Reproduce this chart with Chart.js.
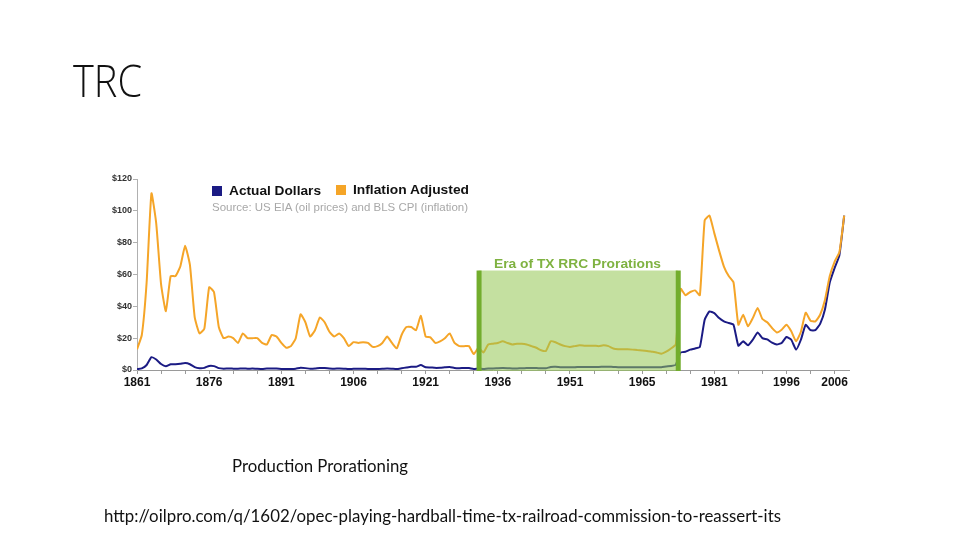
<!DOCTYPE html>
<html>
<head>
<meta charset="utf-8">
<script src="https://cdn.jsdelivr.net/npm/chart.js@4.4.1/dist/chart.umd.min.js"></script>
<style>
  html, body { margin:0; padding:0; background:#fff; width:960px; height:540px; overflow:hidden; }
  #wrap { position:absolute; left:0; top:0; width:960px; height:540px; }
  canvas { position:absolute; left:0; top:0; }
  .t { position:absolute; white-space:nowrap; line-height:1; transform-origin:0 50%; }
  .sq { position:absolute; width:10px; height:10px; }
</style>
</head>
<body>
<div id="wrap">
  <canvas id="c" width="960" height="540"></canvas>
  <div class="t" id="title" data-w="69" style="left:73px;top:58px;font-family:'Open Sans',Lato,sans-serif;font-weight:300;font-size:44px;color:#111;">TRC</div>
  <div class="sq" style="left:212px;top:186px;background:#1b1b84;"></div>
  <div class="t" data-w="92" style="left:229px;top:184px;font-family:'Liberation Sans',Arial,sans-serif;font-weight:bold;font-size:13px;color:#111;">Actual Dollars</div>
  <div class="sq" style="left:336px;top:185px;background:#f5a528;"></div>
  <div class="t" data-w="116" style="left:353px;top:183px;font-family:'Liberation Sans',Arial,sans-serif;font-weight:bold;font-size:13px;color:#111;">Inflation Adjusted</div>
  <div class="t" data-w="256" style="left:212px;top:202px;font-family:'Liberation Sans',Arial,sans-serif;font-size:11px;color:#a8a8a8;">Source: US EIA (oil prices) and BLS CPI (inflation)</div>
  <div class="t" data-w="167" style="left:494px;top:257px;font-family:'Liberation Sans',Arial,sans-serif;font-weight:bold;font-size:13px;color:#7fb241;">Era of TX RRC Prorations</div>
  <div class="t" data-w="176" style="left:232px;top:457px;font-family:Lato,'Open Sans',sans-serif;font-size:17px;color:#111;">Production Prorationing</div>
  <div class="t" data-w="677" style="left:104px;top:507px;font-family:Lato,'Open Sans',sans-serif;font-size:17px;color:#111;">http://oilpro.com/q/1602/opec-playing-hardball-time-tx-railroad-commission-to-reassert-its</div>
</div>
<script>
// ---- data ----
const startYear = 1861;
const actualDollars = [
  0.49,1.05,3.15,8.06,6.59,3.74,2.41,3.63,3.64,3.86,
  4.34,3.64,1.83,1.17,1.35,2.56,2.42,1.19,0.86,0.95,
  0.86,0.78,1.00,0.84,0.88,0.71,0.67,0.88,0.94,0.87,
  0.67,0.56,0.64,0.84,1.36,1.18,0.79,0.91,1.29,1.19,
  0.96,0.80,0.94,0.86,0.62,0.73,0.72,0.72,0.70,0.61,
  0.61,0.74,0.95,0.81,0.64,1.10,1.56,1.98,2.01,3.07,
  1.73,1.61,1.34,1.43,1.68,1.88,1.30,1.17,1.27,1.19,
  0.65,0.87,0.67,1.00,0.97,1.09,1.18,1.13,1.02,1.02,
  1.14,1.19,1.20,1.21,1.05,1.12,1.90,1.99,1.78,1.71,
  1.71,1.71,1.93,1.93,1.93,1.93,1.90,2.08,2.08,1.90,
  1.80,1.80,1.80,1.80,1.80,1.80,1.80,1.80,1.80,1.80,
  2.24,2.48,3.29,11.0,11.5,12.8,13.5,14.5,31.6,36.8,
  35.7,32.6,30.5,29.5,28.4,15.3,18.0,15.5,19.0,23.6,
  20.0,19.2,17.2,16.0,17.0,20.7,19.0,12.8,19.0,28.4,
  25.0,25.0,29.0,38.0,55.0,64.0,72.0,97.0
];
const inflationAdjusted = [
  13,22,55,111,92,54,37,59,59,65,
  78,66,33,23,26,52,49,27,20,21,
  20,17,23,20,20,20,17,16,22,21,
  17,14,15,20,35,30,21,25,33,30,
  24,21,23,20,15,17.5,17,17.5,17,14.5,
  15,17,21,17,13.6,22,27,27,25,34,
  21,20.5,17,18,20,23,17,15,15,15,
  10,14,11,16,16.5,17,18,17,16,16.5,
  16.5,16,15,14,12.4,12,18,17.4,16,15,
  14.5,15,15.5,15.3,15.3,15.3,15,15.5,15,13.5,
  13,13,13,12.8,12.5,12.3,12,11.5,11,10.2,
  11.5,13.5,16,51,47,49,50,47,94,97,
  86,75,65,59,55,28.4,34.7,27.4,32.6,39,
  32,30,26.4,23.6,25.3,28.4,24.3,18,24,36,
  31,30.5,34.7,44,59,68,74,97
];
const tickYears  = [1861,1876,1891,1906,1921,1936,1951,1966,1981,1996,2006];
const tickLabels = ['1861','1876','1891','1906','1921','1936','1951','1965','1981','1996','2006'];
const yTicks = [0,20,40,60,80,100,120];
const eraStart = 1932, eraEnd = 1973.4, eraTop = 62.5;

// ---- build ----
const years = actualDollars.map((_, i) => startYear + i);
const minorYears = [];
for (let y = 1861; y <= 2006; y += 5) minorYears.push(y);

const eraPlugin = {
  id: 'era',
  afterDatasetsDraw(chart) {
    const {ctx, scales:{x, y}} = chart;
    const x1 = x.getPixelForValue(eraStart), x2 = x.getPixelForValue(eraEnd);
    const top = y.getPixelForValue(eraTop), bot = y.getPixelForValue(0) + 1;
    ctx.save();
    ctx.fillStyle = 'rgba(148,199,82,0.55)';
    ctx.fillRect(x1, top, x2 - x1, bot - top);
    ctx.fillStyle = '#72ad2d';
    ctx.fillRect(x1 - 2, top, 5, bot - top);
    ctx.fillRect(x2 - 2, top, 5, bot - top);
    ctx.restore();
  }
};

new Chart(document.getElementById('c'), {
  type: 'line',
  data: {
    datasets: [
      { label:'Inflation Adjusted', data: years.map((yr,i)=>({x:yr, y:inflationAdjusted[i]})),
        borderColor:'#f5a528', borderWidth:2, pointRadius:0, tension:0.15, borderJoinStyle:'round', order:0 },
      { label:'Actual Dollars', data: years.map((yr,i)=>({x:yr, y:actualDollars[i]})),
        borderColor:'#1b1b84', borderWidth:2, pointRadius:0, tension:0.15, borderJoinStyle:'round', order:1 }
    ]
  },
  options: {
    responsive:false, animation:false, devicePixelRatio:1,
    layout:{ padding:{ left:100, right:111, top:179, bottom:0 } },
    plugins:{ legend:{display:false}, tooltip:{enabled:false} },
    scales:{
      x:{ type:'linear', min:1861, max:2009,
        afterBuildTicks(s){ s.ticks = minorYears.map(v=>({value:v})); },
        afterFit(s){ s.height = 170; },
        grid:{ display:true, drawOnChartArea:false, drawTicks:true, tickLength:4, color:'#9a9a9a' },
        border:{ display:true, color:'#9a9a9a', width:1 },
        ticks:{ autoSkip:false, maxRotation:0, padding:1, color:'#111',
          font:{ family:"'Liberation Sans', Arial, sans-serif", size:12, weight:'bold' },
          callback(v){ const k = tickYears.indexOf(v); return k >= 0 ? tickLabels[k] : ''; } }
      },
      y:{ min:0, max:120,
        afterBuildTicks(s){ s.ticks = yTicks.map(v=>({value:v})); },
        afterFit(s){ s.width = 37; },
        grid:{ display:true, drawOnChartArea:false, drawTicks:true, tickLength:4, color:'#b0b0b0' },
        border:{ display:true, color:'#b0b0b0', width:1 },
        ticks:{ padding:1, color:'#333',
          font:{ family:"'Liberation Sans', Arial, sans-serif", size:9, weight:'bold' },
          callback(v){ return '$' + v; } }
      }
    }
  },
  plugins:[eraPlugin]
});

// fit text widths
document.querySelectorAll('.t[data-w]').forEach(el => {
  const w = el.getBoundingClientRect().width;
  const target = parseFloat(el.dataset.w);
  el.style.transform = 'scaleX(' + (target / w).toFixed(4) + ')';
});
</script>
</body>
</html>
